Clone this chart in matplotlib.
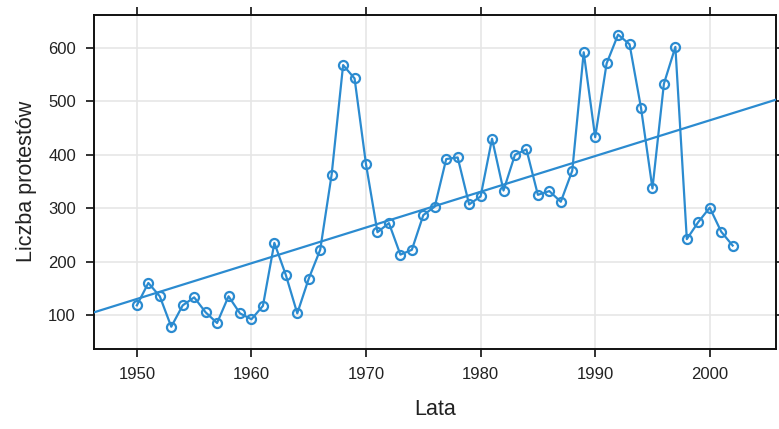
import numpy as np
import matplotlib.pyplot as plt

# Liczba protestów w kolejnych latach
lata = np.arange(1950, 2003)
protesty = [118, 160, 135, 78, 118, 133, 105, 85, 135, 103,
            92, 117, 235, 175, 103, 168, 222, 363, 568, 543,
            382, 255, 272, 213, 222, 287, 303, 392, 395, 307,
            322, 430, 333, 400, 410, 325, 332, 312, 370, 592,
            433, 571, 625, 607, 488, 337, 533, 602, 242, 274,
            301, 256, 230]

kolor = '#2b8bd0'
plt.rcParams['font.family'] = ['Liberation Sans', 'DejaVu Sans']

fig = plt.figure(figsize=(7.79, 4.29), dpi=100)
ax = fig.add_axes([0.1207, 0.1865, 0.8751, 0.7797])

# prosta regresji (MNK)
a, b = np.polyfit(lata, protesty, 1)
xr = np.array([1946.26, 2005.76])
ax.plot(xr, a*xr + b, '-', color=kolor, lw=1.6, zorder=3)

ax.plot(lata, protesty, '-o', color=kolor, lw=1.6, ms=6.5,
        mfc='none', mew=1.6, zorder=4)

ax.set_xlim(1946.26, 2005.76)
ax.set_ylim(36.3, 662.7)
ax.set_xticks([1950, 1960, 1970, 1980, 1990, 2000])
ax.set_yticks([100, 200, 300, 400, 500, 600])
ax.grid(True, color='#e6e6e6', lw=1.2, zorder=0)
ax.set_axisbelow(True)

ax.tick_params(direction='out', length=6, width=1.3, labelsize=12,
               colors='#222222', top=True, right=True, pad=7)
ax.tick_params(labeltop=False, labelright=False)
for s in ax.spines.values():
    s.set_linewidth(1.4)
    s.set_color('#111111')

ax.set_xlabel('Lata', fontsize=15.5, labelpad=12, color='#222222')
ax.set_ylabel('Liczba protestów', fontsize=15.5, labelpad=8, color='#222222')

fig.savefig('out.png', dpi=100)
